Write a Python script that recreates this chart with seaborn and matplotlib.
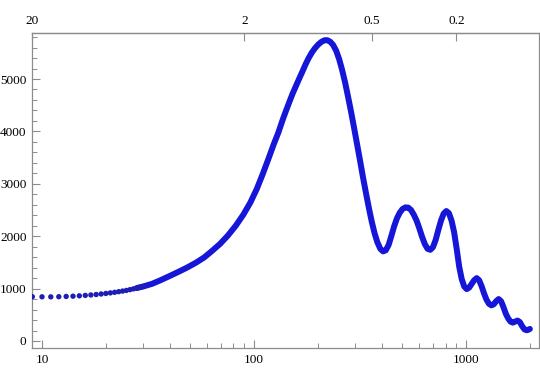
import numpy as np
import pandas as pd
import matplotlib
matplotlib.use("Agg")
import matplotlib.pyplot as plt
import seaborn as sns
from matplotlib.ticker import FixedLocator, NullLocator, MultipleLocator, LogLocator, NullFormatter

# ---- data ----
# low multipoles: individual points at integer l
ell_low = [9, 10, 11, 12, 13, 14, 15, 16, 17, 18, 19, 20, 21, 22, 23, 24, 25, 26, 27, 28, 29, 30]
cl_low = [845, 843, 842, 845, 850, 855, 862, 870, 878, 887, 897, 907, 918, 929, 941,
          953, 965, 980, 995, 1010, 1025, 1040]

# higher multipoles: points merge into a thick curve
ell_high = [28, 30, 33, 36, 40, 44, 48, 53, 58, 63, 69, 75, 82, 89, 96, 103, 110, 117, 124,
            130, 137, 142, 147, 152, 157, 163, 169, 175, 181, 187, 194, 201, 208, 215, 222,
            229, 236, 244, 252, 260, 269, 278, 287, 296, 306, 316, 326, 337, 348, 359, 370,
            382, 394, 406, 418, 431, 444, 458, 472, 487, 502, 518, 534, 550, 567, 584, 602,
            620, 639, 658, 678, 698, 719, 740, 762, 784, 807, 830, 854, 878, 903, 928, 954,
            980, 1007, 1035, 1063, 1092, 1122, 1152, 1183, 1215, 1248, 1282, 1316, 1351,
            1387, 1424, 1462, 1500, 1540, 1580, 1620, 1662, 1705, 1749, 1794, 1840, 1887,
            1935, 1970, 2000]
cl_high = [1010, 1040, 1090, 1155, 1240, 1320, 1395, 1490, 1590, 1710, 1850, 2005, 2200, 2410,
           2640, 2900, 3190, 3480, 3760, 3970, 4240, 4410, 4570, 4720, 4850, 5000, 5140, 5280,
           5400, 5500, 5590, 5660, 5710, 5740, 5740, 5710, 5650, 5540, 5380, 5180, 4930, 4650,
           4370, 4080, 3760, 3450, 3140, 2830, 2540, 2280, 2060, 1880, 1760, 1710, 1730, 1830,
           2000, 2190, 2340, 2450, 2520, 2550, 2545, 2500, 2410, 2300, 2150, 1990, 1850, 1760,
           1740, 1790, 1930, 2120, 2300, 2430, 2480, 2440, 2300, 2080, 1760, 1420, 1180, 1040,
           990, 1020, 1090, 1160, 1200, 1160, 1050, 910, 790, 710, 680, 700, 760, 800, 760,
           650, 520, 430, 370, 350, 370, 390, 360, 280, 220, 205, 215, 230]

top_ticks_ell = [9, 90, 360, 900]
top_tick_labels = ["20", "2", "0.5", "0.2"]
y_ticks = [0, 1000, 2000, 3000, 4000, 5000]
x_ticks = [10, 100, 1000]
x_tick_labels = ["10", "100", "1000"]

df_low = pd.DataFrame({"ell": ell_low, "cl": cl_low})
df_high = pd.DataFrame({"ell": ell_high, "cl": cl_high})

sns.set_theme(style="white")
plt.rcParams["font.family"] = ["Liberation Serif", "DejaVu Serif"]
plt.rcParams["xtick.direction"] = "in"
plt.rcParams["ytick.direction"] = "in"

frame = "#8c8c8c"
blue_line = "#1616d8"
blue_dot = "#1e1eb4"

fig = plt.figure(figsize=(5.4, 3.82), dpi=100)
ax = fig.add_axes([32 / 540, 1 - 348 / 382, (539 - 32) / 540, (348 - 33) / 382])
ax.set_xscale("log")

sns.lineplot(data=df_high, x="ell", y="cl", ax=ax, color=blue_line, linewidth=4.3,
             sort=False, estimator=None, solid_capstyle="round", solid_joinstyle="round")
sns.scatterplot(data=df_low, x="ell", y="cl", ax=ax, color=blue_dot, s=15,
                edgecolor="none", linewidth=0, zorder=3)

ax.set_xlim(8.97, 2208)
ax.set_ylim(-134, 5878)
ax.set_xlabel("")
ax.set_ylabel("")

for sp in ax.spines.values():
    sp.set_color(frame)
    sp.set_linewidth(0.9)
    sp.set_visible(True)

ax.xaxis.set_major_locator(FixedLocator(x_ticks))
ax.set_xticklabels(x_tick_labels)
ax.xaxis.set_minor_locator(LogLocator(base=10, subs=np.arange(2, 10)))
ax.xaxis.set_minor_formatter(NullFormatter())
ax.yaxis.set_major_locator(FixedLocator(y_ticks))
ax.set_yticklabels([str(v) for v in y_ticks])
ax.yaxis.set_minor_locator(MultipleLocator(200))

ax.tick_params(axis="both", which="major", length=6, width=0.8, color=frame,
               labelsize=9.5, labelcolor="black", pad=4)
ax.tick_params(axis="both", which="minor", length=3.5, width=0.7, color=frame)
ax.tick_params(axis="x", which="both", bottom=True, top=False)
ax.tick_params(axis="y", which="both", left=True, right=False)

sec = ax.secondary_xaxis("top")
sec.set_xticks(top_ticks_ell)
sec.set_xticklabels(top_tick_labels)
sec.xaxis.set_minor_locator(NullLocator())
sec.tick_params(axis="x", which="major", direction="in", length=6, width=0.8,
                color=frame, labelsize=9.5, labelcolor="black", pad=4)
sec.spines["top"].set_color(frame)
sec.spines["top"].set_linewidth(0.9)

fig.savefig("out.png", dpi=100)
